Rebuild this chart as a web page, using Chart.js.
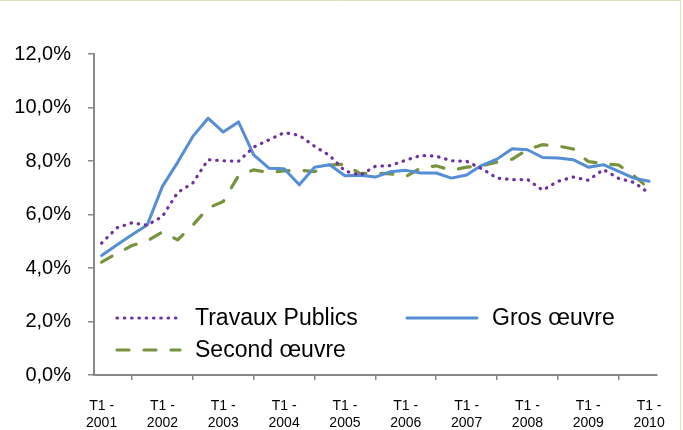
<!DOCTYPE html>
<html>
<head>
<meta charset="utf-8">
<script src="https://cdn.jsdelivr.net/npm/chart.js@4/dist/chart.umd.min.js"></script>
<style>
  body { margin: 0; background: #fff; }
  #wrap { position: relative; width: 683px; height: 430px; }
</style>
</head>
<body>
<div id="wrap"><canvas id="myChart"></canvas></div>
<script>
// quarters T1 2001 .. T1 2010
const years = ['2001', '2002', '2003', '2004', '2005', '2006', '2007', '2008', '2009', '2010']
const quarters = []
years.forEach(y => {
    for (let q = 1; q <= 4; q++) {
        if (y === '2010' && q > 1) break
        quarters.push('T' + q + ' - ' + y)
    }
})

const travauxPublics = [4.93, 5.50, 5.69, 5.60, 5.93, 6.82, 7.18, 8.05, 8.01, 7.99,
    8.52, 8.79, 9.06, 8.96, 8.55, 8.20, 7.63, 7.47, 7.80, 7.83,
    8.03, 8.21, 8.18, 8.01, 7.99, 7.71, 7.36, 7.30, 7.31, 6.91,
    7.24, 7.40, 7.28, 7.68, 7.35, 7.20, 6.80]

const grosOeuvre = [4.47, 4.86, 5.24, 5.61, 7.05, 7.95, 8.92, 9.60, 9.08, 9.46,
    8.23, 7.73, 7.71, 7.11, 7.77, 7.86, 7.45, 7.47, 7.40, 7.60,
    7.65, 7.55, 7.55, 7.36, 7.48, 7.84, 8.07, 8.46, 8.42, 8.13,
    8.11, 8.05, 7.77, 7.86, 7.61, 7.36, 7.24]

const secondOeuvre = [4.22, 4.54, 4.84, 5.01, 5.35, 5.05, 5.60, 6.24, 6.49, 7.45,
    7.67, 7.57, 7.63, 7.66, 7.60, 7.85, 7.88, 7.53, 7.55, 7.52,
    7.42, 7.74, 7.82, 7.65, 7.77, 7.82, 7.96, 8.07, 8.42, 8.61,
    8.56, 8.45, 7.98, 7.90, 7.85, 7.45, 6.97]

const yTicks = [0, 2, 4, 6, 8, 10, 12]

const FONT = '"Liberation Sans", Arial, sans-serif'
const axisColor = '#898989'

// legend drawn inside the plot, like the original
const innerLegend = {
    id: 'innerLegend',
    afterDraw(chart) {
        const ctx = chart.ctx
        const items = [
            { ds: 0, x: 117, y: 318, w: 63 },
            { ds: 1, x: 407, y: 318, w: 70 },
            { ds: 2, x: 117, y: 350, w: 63 }
        ]
        ctx.save()
        items.forEach(it => {
            const d = chart.data.datasets[it.ds]
            ctx.beginPath()
            ctx.strokeStyle = d.borderColor
            ctx.lineWidth = d.borderWidth
            ctx.lineCap = d.borderCapStyle || 'butt'
            ctx.setLineDash(d.borderDash || [])
            ctx.moveTo(it.x, it.y)
            ctx.lineTo(it.x + it.w, it.y)
            ctx.stroke()
            ctx.setLineDash([])
            ctx.fillStyle = '#000'
            ctx.font = '23px ' + FONT
            ctx.textBaseline = 'middle'
            ctx.textAlign = 'left'
            ctx.fillText(d.label, it.x + it.w + 15, it.y + 1)
        })
        // light green frame
        ctx.strokeStyle = '#D7E4BD'
        ctx.lineWidth = 1
        ctx.beginPath()
        ctx.moveTo(0, 0.5)
        ctx.lineTo(680.5, 0.5)
        ctx.lineTo(680.5, 430)
        ctx.stroke()
        ctx.restore()
    }
}

const config = {
    type: 'line',
    data: {
        labels: quarters,
        datasets: [{
            label: 'Travaux Publics',
            data: travauxPublics,
            borderColor: '#7030A0',
            borderWidth: 3.2,
            borderDash: [0.5, 6.8],
            borderCapStyle: 'round',
            pointRadius: 0,
            tension: 0
        }, {
            label: 'Gros œuvre',
            data: grosOeuvre,
            borderColor: '#558ED5',
            borderWidth: 3,
            borderCapStyle: 'round',
            borderJoinStyle: 'round',
            pointRadius: 0,
            tension: 0
        }, {
            label: 'Second œuvre',
            data: secondOeuvre,
            borderColor: '#77933C',
            borderWidth: 3.2,
            borderDash: [12, 15],
            borderCapStyle: 'round',
            pointRadius: 0,
            tension: 0
        }]
    },
    options: {
        responsive: true,
        maintainAspectRatio: false,
        animation: false,
        layout: {
            padding: { top: 54, right: 25, left: 0, bottom: 0 }
        },
        plugins: {
            legend: { display: false },
            tooltip: { enabled: false }
        },
        scales: {
            x: {
                offset: true,
                grid: {
                    display: true,
                    drawOnChartArea: false,
                    offset: true,
                    tickLength: 5,
                    color: axisColor,
                    lineWidth: 1.5
                },
                border: { color: axisColor, width: 2 },
                ticks: {
                    autoSkip: false,
                    maxRotation: 0,
                    padding: 18,
                    color: '#000',
                    font: { family: FONT, size: 14 },
                    callback: function (v, i) {
                        if (i % 4 !== 0) return null
                        return ['T1 -', quarters[i].split(' - ')[1]]
                    }
                },
                afterFit: scale => { scale.height = 55 }
            },
            y: {
                min: 0,
                max: 12,
                afterBuildTicks: scale => { scale.ticks = yTicks.map(v => ({ value: v })) },
                grid: {
                    display: true,
                    drawOnChartArea: false,
                    tickLength: 6,
                    color: axisColor,
                    lineWidth: 1.5
                },
                border: { color: axisColor, width: 2 },
                ticks: {
                    padding: 17,
                    color: '#000',
                    font: { family: FONT, size: 20 },
                    callback: v => v.toFixed(1).replace('.', ',') + '%'
                },
                afterFit: scale => { scale.width = 94 }
            }
        }
    },
    plugins: [innerLegend]
}

const myChart = new Chart(document.getElementById('myChart'), config)
</script>
</body>
</html>
